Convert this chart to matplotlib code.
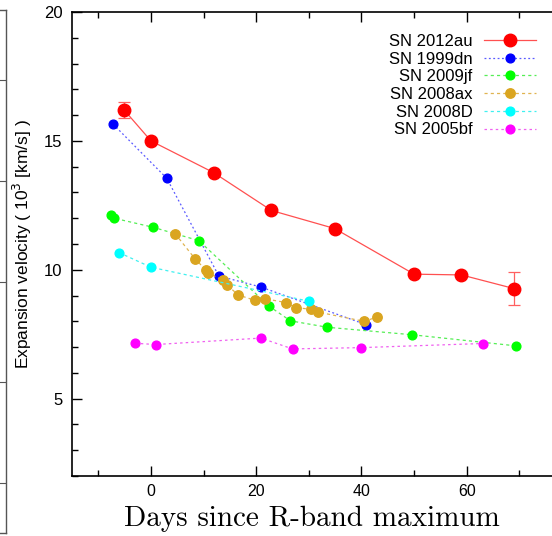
import matplotlib
matplotlib.use('Agg')
import matplotlib.pyplot as plt
import numpy as np
from matplotlib.ticker import MultipleLocator, FixedLocator

# days since R-band maximum / velocity in 10^3 km/s
sn2012au_t = [-5.1, 0.0, 11.9, 22.9, 34.9, 50.0, 59.0, 69.0]
sn2012au_v = [16.2, 15.0, 13.77, 12.3, 11.6, 9.83, 9.8, 9.27]
sn2012au_err = [0.3, 0, 0, 0, 0, 0, 0, 0.63]

sn1999dn_t = [-7.2, 3.0, 12.9, 20.9, 40.9]
sn1999dn_v = [15.65, 13.55, 9.76, 9.33, 7.87]

sn2009jf_t = [-7.6, -7.0, 0.4, 9.1, 22.5, 26.5, 33.5, 49.6, 69.3]
sn2009jf_v = [12.12, 12.0, 11.65, 11.13, 8.58, 8.02, 7.77, 7.48, 7.05]

sn2008ax_t = [4.6, 8.4, 10.5, 10.8, 13.6, 14.5, 16.6, 19.7, 21.6, 25.6, 27.5, 30.4, 31.7, 40.5, 42.9]
sn2008ax_v = [11.4, 10.42, 9.98, 9.88, 9.6, 9.4, 9.02, 8.82, 8.88, 8.73, 8.53, 8.47, 8.36, 8.0, 8.16]

sn2008d_t = [-6.1, 0.0, 30.0]
sn2008d_v = [10.67, 10.1, 8.78]

sn2005bf_t = [-3.0, 0.9, 20.9, 26.9, 39.9, 63.0]
sn2005bf_v = [7.15, 7.1, 7.35, 6.93, 6.98, 7.14]

x_major = [0, 20, 40, 60]
x_minor = [-10, 10, 30, 50, 70]

W, H = 552, 536
fig = plt.figure(figsize=(W / 100, H / 100), dpi=100)

# edge of the neighbouring panel
ax0 = fig.add_axes([-60 / W, 3 / H, 66 / W, 523 / H])
ax0.set_ylim(0, 5.2)
ax0.set_yticks([0.5, 1.5, 2.5, 3.5, 4.5])
ax0.set_xticks([])
ax0.spines['left'].set_visible(False)
for s in ['right', 'top', 'bottom']:
    ax0.spines[s].set_color('#555555')
    ax0.spines[s].set_linewidth(1.0)
ax0.yaxis.tick_right()
ax0.tick_params(axis='y', direction='in', length=5, color='#555555', labelright=False)

ax = fig.add_axes([72 / W, 60 / H, 500 / W, 464 / H])
sans = 'Liberation Sans'

ax.plot(sn1999dn_t, sn1999dn_v, color='#5a5aff', lw=0.9, dashes=(1.5, 2.0),
        marker='o', ms=6.3, mfc='blue', mec='blue', label='SN 1999dn')
ax.plot(sn2009jf_t, sn2009jf_v, color='#55ee55', lw=0.9, dashes=(2.5, 2.5),
        marker='o', ms=6.3, mfc='#00ff00', mec='#00ff00', label='SN 2009jf')
ax.plot(sn2008ax_t, sn2008ax_v, color='#e0b450', lw=0.9, dashes=(2.5, 2.5),
        marker='o', ms=6.8, mfc='goldenrod', mec='goldenrod', label='SN 2008ax')
ax.plot(sn2008d_t, sn2008d_v, color='#40f0f0', lw=0.9, dashes=(2.5, 2.5),
        marker='o', ms=6.3, mfc='cyan', mec='cyan', label='SN 2008D')
ax.plot(sn2005bf_t, sn2005bf_v, color='#f060f0', lw=0.9, dashes=(2.0, 2.5),
        marker='o', ms=6.3, mfc='magenta', mec='magenta', label='SN 2005bf')

yerr = np.array(sn2012au_err)
mask = yerr > 0
ax.errorbar(np.array(sn2012au_t)[mask], np.array(sn2012au_v)[mask], yerr=yerr[mask],
            fmt='none', ecolor='#ff6060', elinewidth=0.9, capsize=4, capthick=0.9, zorder=4)
ax.plot(sn2012au_t, sn2012au_v, color='#ff5050', lw=0.9, marker='o', ms=9.0,
        mfc='red', mec='red', label='SN 2012au', zorder=5)

ax.set_xlim(-15, 80)
ax.set_ylim(2, 20)
ax.xaxis.set_major_locator(FixedLocator(x_major))
ax.xaxis.set_minor_locator(FixedLocator(x_minor))
ax.yaxis.set_major_locator(MultipleLocator(5))
ax.yaxis.set_minor_locator(MultipleLocator(1))
ax.tick_params(which='both', direction='in', top=True, right=True, width=1.0)
ax.tick_params(which='major', length=7)
ax.tick_params(which='minor', length=4)
ax.tick_params(axis='y', pad=7, labelsize=12)
ax.tick_params(axis='x', pad=6, labelsize=11.5)
for lab in ax.get_xticklabels() + ax.get_yticklabels():
    lab.set_family(sans)
for s in ax.spines.values():
    s.set_linewidth(1.2)

ax.set_xlabel('Days since R-band maximum', family='cmr10', fontsize=21)
ax.xaxis.set_label_coords((312 - 72) / 500, -30 / 464)
ax.set_ylabel(r'Expansion velocity ( 10$^3$ [km/s] )', family=sans, fontsize=12.5)
ax.yaxis.set_label_coords(-38 / 500, 0.5)

handles, labels = ax.get_legend_handles_labels()
order = [5, 0, 1, 2, 3, 4]
leg = ax.legend([handles[i] for i in order], [labels[i] for i in order],
                loc='upper right', bbox_to_anchor=(536 / W, (H - 34) / H),
                bbox_transform=fig.transFigure, frameon=False, markerfirst=False,
                prop={'family': sans, 'size': 12}, borderpad=0, borderaxespad=0,
                handlelength=3.1, handletextpad=0.7, labelspacing=0.16, numpoints=1)

fig.savefig('out.png', dpi=100)
